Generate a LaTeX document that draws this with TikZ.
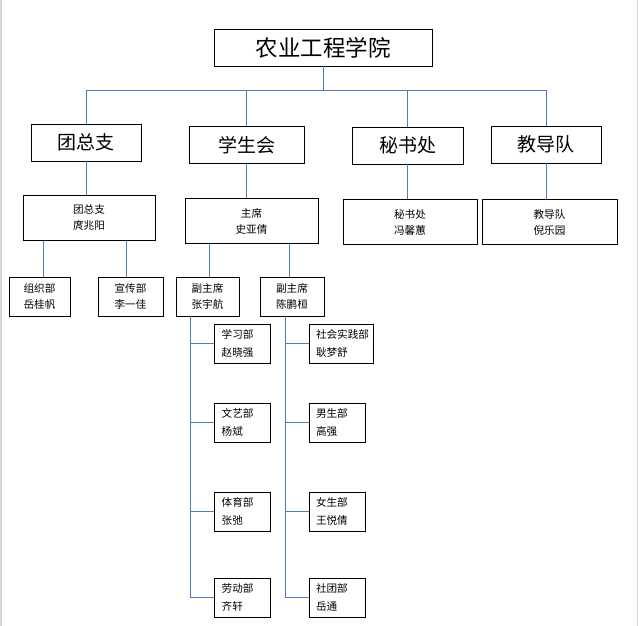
\documentclass[tikz,border=0pt]{standalone}
\usepackage{fontspec}
\setmainfont{Noto Sans CJK SC}
\definecolor{ink}{HTML}{000000}
\definecolor{linkblue}{HTML}{4A7EBB}
\definecolor{edgegray}{HTML}{D4D4D4}

\begin{document}
\begin{tikzpicture}[x=1pt,y=-1pt,
    box/.style={draw=ink,line width=0.9pt,inner sep=0pt,align=center},
    leaf/.style={box,align=left,inner xsep=7pt,minimum height=39pt,font=\fontsize{10.6}{17.6}\selectfont},
    link/.style={draw=linkblue,line width=0.8pt}]
  \useasboundingbox (0,0) rectangle (638,626);
  \draw[edgegray,line width=1.6pt] (0.8,0) -- (0.8,626);
  \draw[edgegray,line width=1pt] (637.3,0) -- (637.3,626);

  \node[box,minimum width=218pt,minimum height=37pt,font=\fontsize{22.5}{26}\selectfont] (college) at (323,47.5) {农业工程学院};

  \foreach \nm/\cx/\cy/\w/\txt in {tzz/86/142.5/110/团总支,xsh/246.5/145/115/学生会,msc/407.5/145.5/111/秘书处,jdd/546/144.5/110/教导队}{
    \node[box,minimum width=\w pt,minimum height=37pt,font=\fontsize{19}{22}\selectfont] (\nm) at (\cx,\cy) {\txt};}

  \foreach \nm/\cx/\cy/\w/\txt in {tzzhead/89/218/132/{团总支\\庹兆阳},chair/251.5/221/133/{主席\\史亚倩},mschead/410/222/134/{秘书处\\冯馨蕙},jddhead/549.5/222/135/{教导队\\倪乐园}}{
    \node[box,minimum width=\w pt,minimum height=45pt,font=\fontsize{10.6}{16}\selectfont] (\nm) at (\cx,\cy) {\txt};}

  \foreach \nm/\cx/\w/\txt in {zzb/39.5/61/{组织部\\岳桂帆},xcb/130.5/65/{宣传部\\李一佳},zyh/207.5/63/{副主席\\张宇航},cpz/292/64/{副主席\\陈鹏桓}}{
    \node[box,minimum width=\w pt,minimum height=39pt,font=\fontsize{10.6}{16}\selectfont] (\nm) at (\cx,296.5) {\txt};}

  \foreach \nm/\cy/\txt in {xxb/343.5/{学习部\\赵晓强},wyb/422.5/{文艺部\\杨斌},tyb/511.5/{体育部\\张弛},ldb/597.5/{劳动部\\齐轩}}{
    \node[leaf,text width=42pt] (\nm) at (242.7,\cy) {\txt};}
  \foreach \nm/\cx/\cy/\w/\txt in {sjb/341/343.5/50/{社会实践部\\耿梦舒},nsb/337/422.5/42/{男生部\\高强},vsb/337/511.5/42/{女生部\\王悦倩},stb/337/597.5/42/{社团部\\岳通}}{
    \node[leaf,text width=\w pt] (\nm) at (\cx,\cy) {\txt};}

  \coordinate (barL) at (86,90);
  \draw[link] (tzz.north |- barL) -- (jdd.north |- barL);
  \draw[link] (college.south) -- (college.south |- barL);
  \foreach \nm in {tzz,xsh,msc,jdd}
    \draw[link] (\nm.north) -- (\nm.north |- barL);

  \foreach \p/\c in {tzz/tzzhead,xsh/chair,msc/mschead,jdd/jddhead}
    \draw[link] (\p.south) -- (\p.south |- \c.north);

  \foreach \c/\p/\dx in {zzb/tzzhead/3.5,xcb/tzzhead/-4.5,zyh/chair/1.5,cpz/chair/-3}
    \draw[link] ([xshift=\dx pt]\c.north) -- ([xshift=\dx pt]\c.north |- \p.south);

  \coordinate (spineL) at (190,0);
  \coordinate (spineR) at (285,0);
  \draw[link] (zyh.south -| spineL) -- (ldb.west -| spineL) -- (ldb.west);
  \foreach \nm in {xxb,wyb,tyb}
    \draw[link] (\nm.west -| spineL) -- (\nm.west);
  \draw[link] (cpz.south -| spineR) -- (stb.west -| spineR) -- (stb.west);
  \foreach \nm in {sjb,nsb,vsb}
    \draw[link] (\nm.west -| spineR) -- (\nm.west);
\end{tikzpicture}
\end{document}
